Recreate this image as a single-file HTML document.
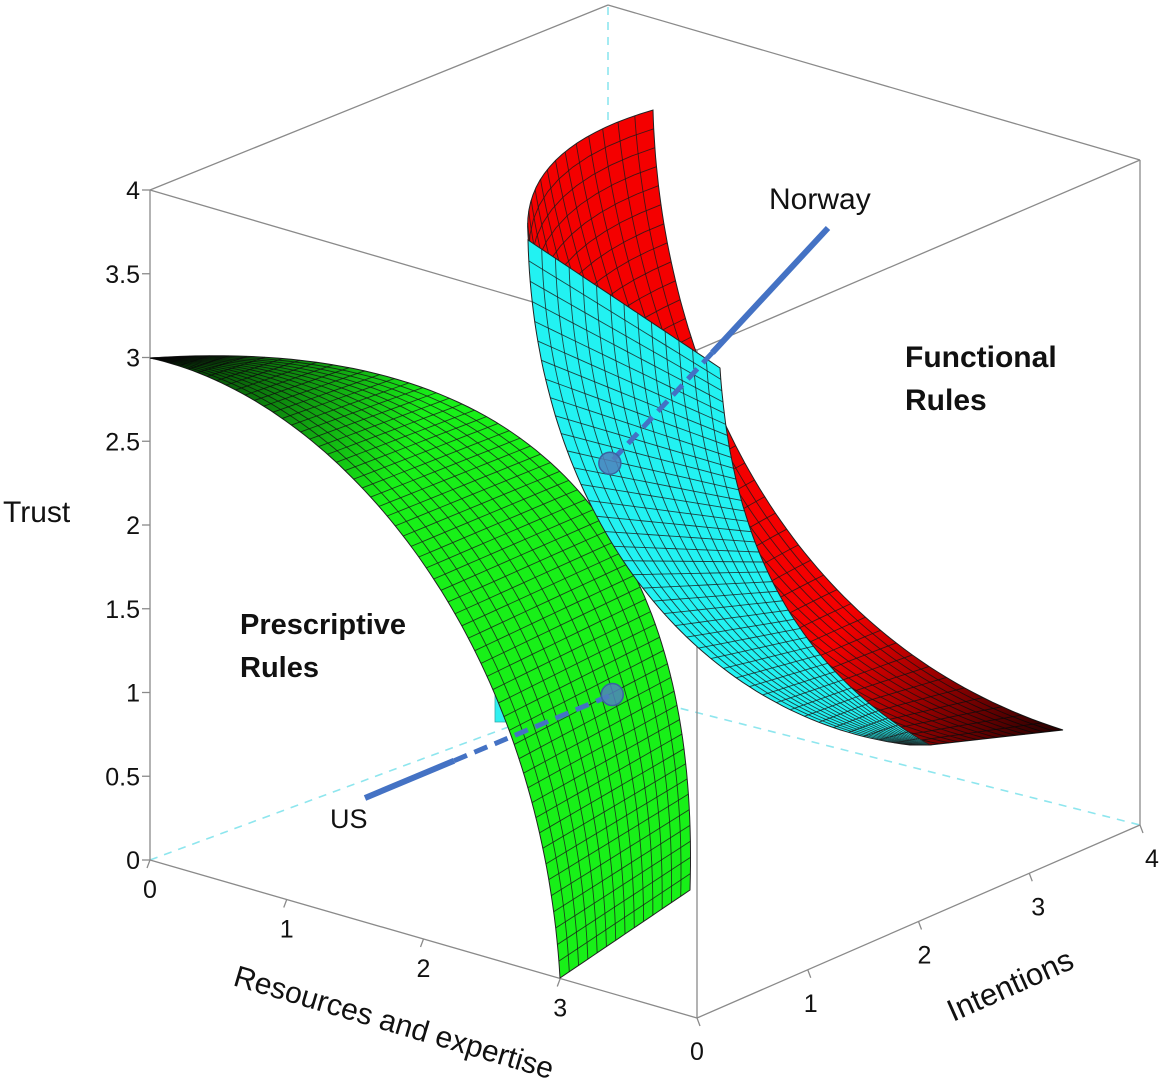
<!DOCTYPE html>
<html><head><meta charset="utf-8">
<style>
html,body{margin:0;padding:0;background:#fff;}
svg{display:block;font-family:"Liberation Sans",sans-serif;}
.t{font-size:25px;fill:#111;}
</style></head>
<body>
<svg id="chart" width="1167" height="1086" viewBox="0 0 1167 1086" xmlns="http://www.w3.org/2000/svg">
<defs>
<linearGradient id="gshade" x1="150" y1="358" x2="400" y2="470" gradientUnits="userSpaceOnUse">
<stop offset="0" stop-color="#000" stop-opacity="0.85"/><stop offset="1" stop-color="#000" stop-opacity="0"/></linearGradient>
<linearGradient id="rshade" x1="1063" y1="730" x2="860" y2="600" gradientUnits="userSpaceOnUse">
<stop offset="0" stop-color="#000" stop-opacity="0.85"/><stop offset="1" stop-color="#000" stop-opacity="0"/></linearGradient>
</defs>
<g id="box"></g>
<g id="surf"></g>
<g id="marks"></g>
<g id="ticks"></g>
<text class="t" x="769" y="209" style="font-size:30px">Norway</text>
<text class="t" x="330" y="828" style="font-size:27px">US</text>
<text class="t" x="905" y="367" font-weight="bold" style="font-size:30px">Functional</text>
<text class="t" x="905" y="410" font-weight="bold" style="font-size:30px">Rules</text>
<text class="t" x="240" y="634" font-weight="bold" style="font-size:29px">Prescriptive</text>
<text class="t" x="240" y="677" font-weight="bold" style="font-size:29px">Rules</text>
<text class="t" x="3" y="522" style="font-size:30px">Trust</text>
<text class="t" x="232" y="985" transform="rotate(16.5 232 985)" style="font-size:30px">Resources and expertise</text>
<text class="t" x="953" y="1022" transform="rotate(-24 953 1022)" style="font-size:31px">Intentions</text>
</svg>
<script>
const zTicks=[0,0.5,1,1.5,2,2.5,3,3.5,4];
const zTickLabels=["0","0.5","1","1.5","2","2.5","3","3.5","4"];
const rTicks=[0,1,2,3];
const iTicks=[0,1,2,3,4];
const countries=["Norway","US"];
const countryR=[1.5,3.0];
const countryI=[2.3,0.47];
const countryZ=[2.06,1.56];
const NS="http://www.w3.org/2000/svg";
function proj(R,I,Z){return [150+136.75*R+110.75*I, 860+39.5*R-48.25*I-167.5*Z];}
function mk(tag,attrs,parent){const e=document.createElementNS(NS,tag);for(const k in attrs)e.setAttribute(k,attrs[k]);parent.appendChild(e);return e;}
const box=document.getElementById('box');
function ln(a,b,name,dash){const e=mk('line',{x1:a[0],y1:a[1],x2:b[0],y2:b[1],stroke:dash?'#8ee6ee':'#8a8a8a','stroke-width':dash?1.6:1.3,'stroke-dasharray':dash?'8 7':'none'},box);

}
const BL=[150,860],BF=[697,1018],BR=[1140,825],BB=[608,690];
const TL=[150,190],TF=[697,350],TR=[1140,160],TB=[608,5];
ln(BB,TB,'hidden-edge',1);ln(BL,BB,'hidden-edge',1);ln(BB,BR,'hidden-edge',1);
ln(BL,TL,'box-edge');ln(BL,BF,'box-edge');ln(BF,BR,'box-edge');ln(BF,TF,'box-edge');ln(BR,TR,'box-edge');
ln(TL,TF,'box-edge');ln(TF,TR,'box-edge');ln(TL,TB,'box-edge');ln(TB,TR,'box-edge');
const surf=document.getElementById('surf');
function cub(p,t){const u=1-t;return [u*u*u*p[0][0]+3*u*u*t*p[1][0]+3*u*t*t*p[2][0]+t*t*t*p[3][0],u*u*u*p[0][1]+3*u*u*t*p[1][1]+3*u*t*t*p[2][1]+t*t*t*p[3][1]];}
function surface(e1,e2,bulge,fill,nu,nv,name,shade){
 const S=(u,v)=>{const a=cub(e1,u),b=cub(e2,u);const f=4*v*(1-v)*Math.pow(1-u,3);return [a[0]+(b[0]-a[0])*v+bulge[0]*f,a[1]+(b[1]-a[1])*v+bulge[1]*f];};
 const g=mk('g',{},surf);
 
 
 let pts=[];const N=80;
 for(let i=0;i<=N;i++)pts.push(S(i/N,0));
 for(let i=0;i<=20;i++)pts.push(S(1,i/20));
 for(let i=N;i>=0;i--)pts.push(S(i/N,1));
 for(let i=20;i>=0;i--)pts.push(S(0,i/20));
 const d='M'+pts.map(p=>p[0].toFixed(1)+','+p[1].toFixed(1)).join('L')+'Z';
 mk('path',{d:d,fill:fill,stroke:'#222','stroke-width':1},g);
 for(let j=1;j<nv;j++){let q=[];for(let i=0;i<=N;i++)q.push(S(i/N,j/nv));
  mk('polyline',{points:q.map(p=>p.join(',')).join(' '),fill:'none',stroke:'#1a1a1a','stroke-width':0.9,'stroke-opacity':0.8},g);}
 for(let i=1;i<nu;i++){let q=[];for(let j=0;j<=10;j++)q.push(S(i/nu,j/10));
  mk('polyline',{points:q.map(p=>p.join(',')).join(' '),fill:'none',stroke:'#1a1a1a','stroke-width':0.9,'stroke-opacity':0.8},g);}
 if(shade)mk('path',{d:d,fill:shade},g);
}
const cp=mk('polygon',{points:'495,690 512,685 520,722 495,722',fill:'#2ff0f0',stroke:'#3aa','stroke-width':0.8},surf);


surface([[150,358],[340,400],[540,640],[560,978]],[[150,358],[560,330],[700,560],[690,890]],[0,0],'#18f018',60,14,'prescriptive-surface','url(#gshade)');
surface([[528,235],[540,450],[700,700],[930,745]],[[653,110],[660,360],[780,640],[1063,730]],[-35,-12],'#f40000',40,14,'functional-red-surface','url(#rshade)');
surface([[528,240],[535,520],[700,720],[910,745]],[[720,368],[730,520],[780,660],[930,745]],[0,0],'#22f2f2',40,14,'functional-cyan-surface',null);
const marks=document.getElementById('marks');
const labelEnd=[[828,228],[365,798]];
const solidFrac=[0.53,0.36];
countries.forEach((c,k)=>{
 const p=proj(countryR[k],countryI[k],countryZ[k]);const e=labelEnd[k];
 const m=[e[0]+(p[0]-e[0])*solidFrac[k],e[1]+(p[1]-e[1])*solidFrac[k]];
 const g=mk('g',{},marks);
 
 
 mk('line',{x1:e[0],y1:e[1],x2:m[0],y2:m[1],stroke:'#4472c4','stroke-width':6},g);
 mk('line',{x1:m[0],y1:m[1],x2:p[0],y2:p[1],stroke:'#4472c4','stroke-width':5,'stroke-dasharray':'14 8'},g);
 mk('circle',{cx:p[0],cy:p[1],r:11,fill:'#4f81bd','fill-opacity':0.85,stroke:'#3a62a0','stroke-width':1.5},g);
});
const tk=document.getElementById('ticks');
zTicks.forEach((z,i)=>{const p=proj(0,0,z);
 mk('line',{x1:p[0]-8,y1:p[1],x2:p[0],y2:p[1],stroke:'#8a8a8a','stroke-width':1.3},tk);
 const t=mk('text',{x:p[0]-10,y:p[1]+9,'text-anchor':'end',class:'t'},tk);t.textContent=zTickLabels[i];
 
 });
rTicks.forEach(r=>{const p=proj(r,0,0);
 mk('line',{x1:p[0],y1:p[1],x2:p[0]-3,y2:p[1]+8,stroke:'#8a8a8a','stroke-width':1.3},tk);
 const t=mk('text',{x:p[0],y:p[1]+38,'text-anchor':'middle',class:'t'},tk);t.textContent=String(r);
 
 });
iTicks.forEach(i=>{const p=proj(4,i,0);
 mk('line',{x1:p[0],y1:p[1],x2:p[0]+3,y2:p[1]+8,stroke:'#8a8a8a','stroke-width':1.3},tk);
 const t=mk('text',{x:p[0]+(i*3),y:p[1]+42,'text-anchor':'middle',class:'t'},tk);t.textContent=String(i);
 
 });
</script>
</body></html>
